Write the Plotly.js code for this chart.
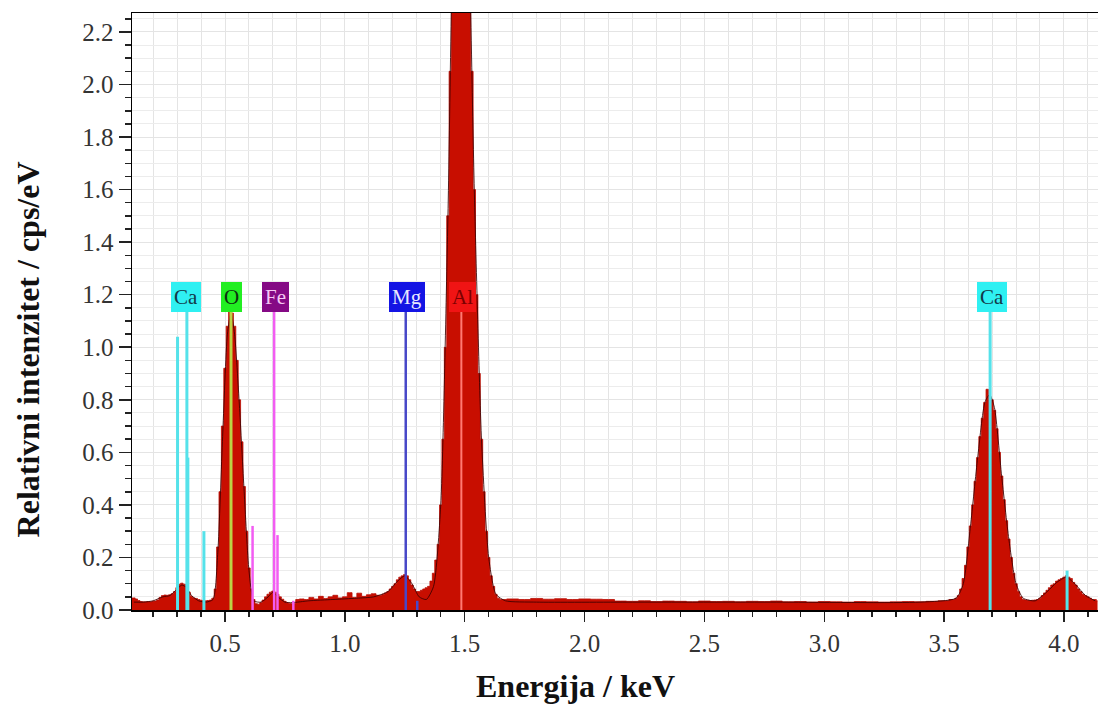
<!DOCTYPE html>
<html>
<head>
<meta charset="utf-8">
<script src="https://cdn.plot.ly/plotly-3.0.1.min.js"></script>
<style>html,body{margin:0;padding:0;background:#fff;}#chart{width:1098px;height:706px;}</style>
</head>
<body>
<div id="chart"></div>
<script>
// ---- Spectrum data (energy in keV, intensity in cps/eV) ----
const energyLow = [0.11,0.12,0.13,0.14,0.15,0.16,0.17,0.18,0.19,0.20,0.21,0.22,0.23,0.24,0.25,0.26,0.27,0.28,0.29,0.30,0.31,0.32,0.33,0.34,0.35,0.36,0.37,0.38,0.39,0.40,0.41,0.42,0.43,0.44,0.45];
const countsLow = [0.046,0.046,0.042,0.036,0.032,0.031,0.031,0.032,0.031,0.033,0.034,0.038,0.048,0.055,0.057,0.056,0.058,0.062,0.070,0.085,0.098,0.102,0.098,0.085,0.068,0.052,0.046,0.044,0.040,0.037,0.036,0.035,0.036,0.038,0.045];

const energyO = [0.46,0.47,0.48,0.49,0.50,0.51,0.52,0.53,0.54,0.55,0.56,0.57,0.58,0.59,0.60,0.61,0.62];
const countsO = [0.08,0.24,0.45,0.70,0.92,1.08,1.14,1.13,1.08,0.95,0.80,0.64,0.47,0.30,0.16,0.08,0.04];

const energyFe = [0.63,0.64,0.65,0.66,0.67,0.68,0.69,0.70,0.71,0.72,0.73,0.74,0.75,0.76,0.77,0.78,0.79,0.80];
const countsFe = [0.024,0.022,0.028,0.038,0.050,0.060,0.068,0.072,0.068,0.060,0.050,0.041,0.033,0.028,0.025,0.024,0.026,0.040];

const energyBg1 = [0.82,0.84,0.86,0.88,0.90,0.92,0.94,0.96,0.98,1.00,1.02,1.04,1.06,1.08,1.10,1.12,1.14];
const countsBg1 = [0.042,0.040,0.048,0.042,0.052,0.044,0.050,0.056,0.046,0.050,0.066,0.048,0.064,0.052,0.058,0.062,0.056];

const energyMg = [1.15,1.16,1.17,1.18,1.19,1.20,1.21,1.22,1.23,1.24,1.25,1.26,1.27,1.28,1.29,1.30,1.31,1.32,1.33,1.34,1.35,1.36,1.37,1.38];
const countsMg = [0.055,0.06,0.065,0.07,0.08,0.09,0.10,0.115,0.125,0.13,0.135,0.13,0.115,0.095,0.08,0.07,0.07,0.075,0.08,0.085,0.09,0.11,0.14,0.19];

const energyAl = [1.39,1.40,1.41,1.42,1.43,1.44,1.45,1.46,1.47,1.48,1.49,1.50,1.51,1.52,1.53,1.54,1.55,1.56,1.57,1.58,1.59,1.60,1.61,1.62,1.63,1.64,1.65];
const countsAl = [0.25,0.40,0.65,1.00,1.50,2.05,2.60,3.00,3.25,3.35,3.35,3.20,2.90,2.50,2.05,1.60,1.20,0.90,0.65,0.45,0.30,0.20,0.13,0.09,0.06,0.045,0.04];

const energyBg2 = [1.70,1.75,1.80,1.85,1.90,1.95,2.00,2.05,2.10,2.15,2.20,2.25,2.30,2.35,2.40,2.45,2.50,2.55,2.60,2.65,2.70,2.75,2.80,2.85,2.90,2.95,3.00,3.05,3.10,3.15,3.20,3.25,3.30,3.35,3.40,3.45,3.50];
const countsBg2 = [0.042,0.040,0.044,0.041,0.043,0.040,0.042,0.041,0.040,0.034,0.033,0.035,0.032,0.034,0.033,0.031,0.034,0.032,0.033,0.031,0.033,0.032,0.034,0.031,0.032,0.030,0.032,0.031,0.030,0.032,0.031,0.030,0.031,0.032,0.031,0.033,0.035];

const energyCa = [3.54,3.55,3.56,3.57,3.58,3.59,3.60,3.61,3.62,3.63,3.64,3.65,3.66,3.67,3.68,3.69,3.70,3.71,3.72,3.73,3.74,3.75,3.76,3.77,3.78,3.79,3.80,3.81,3.82,3.83];
const countsCa = [0.04,0.045,0.055,0.08,0.12,0.17,0.24,0.32,0.40,0.49,0.58,0.66,0.73,0.79,0.84,0.80,0.80,0.76,0.69,0.60,0.51,0.42,0.34,0.27,0.20,0.14,0.10,0.07,0.05,0.04];

const energyBg3 = [3.84,3.85,3.86,3.87,3.88,3.89];
const countsBg3 = [0.038,0.037,0.036,0.037,0.038,0.040];

const energyCaKb = [3.90,3.91,3.92,3.93,3.94,3.95,3.96,3.97,3.98,3.99,4.00,4.01,4.02,4.03,4.04,4.05,4.06,4.07,4.08,4.09,4.10,4.11,4.12,4.13,4.14];
const countsCaKb = [0.045,0.055,0.065,0.075,0.085,0.095,0.10,0.11,0.115,0.12,0.125,0.13,0.125,0.12,0.105,0.095,0.08,0.07,0.06,0.055,0.05,0.045,0.04,0.04,0.035];

// ---- Fitted envelope (dark outline) ----
const fitEnergy = [0.12,0.16,0.20,0.24,0.27,0.30,0.32,0.34,0.36,0.39,0.42,0.45,0.47,0.49,0.51,0.525,0.54,0.56,0.58,0.60,0.62,0.65,0.68,0.70,0.72,0.75,0.78,0.85,0.95,1.05,1.12,1.18,1.22,1.25,1.28,1.31,1.34,1.37,1.40,1.43,1.46,1.487,1.51,1.54,1.57,1.60,1.63,1.67,1.8,2.2,2.8,3.4,3.55,3.58,3.61,3.64,3.67,3.69,3.71,3.74,3.77,3.80,3.83,3.88,3.93,3.97,4.01,4.05,4.09,4.13];
const fitIntensity = [0.03,0.03,0.035,0.05,0.055,0.08,0.095,0.085,0.055,0.035,0.03,0.04,0.22,0.66,1.05,1.13,1.05,0.78,0.45,0.15,0.035,0.03,0.05,0.068,0.05,0.03,0.028,0.035,0.04,0.045,0.05,0.07,0.11,0.13,0.10,0.05,0.04,0.09,0.4,1.5,3.0,3.35,2.9,1.6,0.65,0.2,0.06,0.035,0.03,0.03,0.03,0.03,0.045,0.1,0.32,0.58,0.79,0.82,0.77,0.51,0.27,0.1,0.045,0.035,0.07,0.105,0.125,0.095,0.055,0.035];

// ---- Element line markers ----
const markerEnergy  = [0.302,0.341,0.345,0.412,0.525,0.615,0.705,0.719,0.785,1.254,1.302,1.486,3.692,4.013];
const markerHeight  = [1.04,1.135,0.58,0.30,1.135,0.32,1.135,0.285,0.035,1.135,0.035,1.135,1.135,0.15];
const markerElement = ['Ca','Ca','Ca','Ca','O','Fe','Fe','Fe','Fe','Mg','Mg','Al','Ca','Ca'];

// ---- Element labels ----
const labelText   = ['Ca','O','Fe','Mg','Al','Ca'];
const labelEnergy = [0.338,0.527,0.711,1.259,1.489,3.700];

const lineColor = {Ca:'#55e2ea', O:'#bcd444', Fe:'#f25cf2', Mg:'#4848c8', Al:'#ff7a72'};
const lineWidth = {Ca:3, O:3, Fe:2.5, Mg:2.5, Al:2};
const boxStyle = {
  Ca:{bg:'#2ff0f2', fg:'#123848'},
  O:{bg:'#22ee22', fg:'#0c3010'},
  Fe:{bg:'#850a85', fg:'#f4c8f4'},
  Mg:{bg:'#1414e4', fg:'#e8e8ff'},
  Al:{bg:'#f01414', fg:'#7a0000'}
};

const energy = [].concat(energyLow, energyO, energyFe, energyBg1, energyMg, energyAl, energyBg2, energyCa, energyBg3, energyCaKb);
const intensity = [].concat(countsLow, countsO, countsFe, countsBg1, countsMg, countsAl, countsBg2, countsCa, countsBg3, countsCaKb);

const traces = [];
traces.push({
  type:'scatter', mode:'lines', x:energy, y:intensity,
  line:{shape:'hvh', color:'#b80a00', width:0.8},
  fill:'tozeroy', fillcolor:'#c80e00', hoverinfo:'x+y'
});
traces.push({
  type:'scatter', mode:'lines', x:fitEnergy, y:fitIntensity,
  line:{shape:'spline', smoothing:0.6, color:'rgba(60,0,0,0.85)', width:1}, hoverinfo:'skip'
});
const byEl = {};
markerEnergy.forEach((e,i)=>{
  const el = markerElement[i];
  if(!byEl[el]) byEl[el] = {x:[], y:[]};
  byEl[el].x.push(e, e, null);
  byEl[el].y.push(0, markerHeight[i], null);
});
Object.keys(byEl).forEach(el=>{
  traces.push({type:'scatter', mode:'lines', x:byEl[el].x, y:byEl[el].y,
    line:{color:lineColor[el], width:lineWidth[el]}, hoverinfo:'skip', name:el});
});

const serif = 'Liberation Serif, Times New Roman, Times, serif';
const annotations = labelText.map((t,i)=>({
  x:labelEnergy[i], y:1.191, xref:'x', yref:'y', text:t, showarrow:false,
  font:{family:serif, size:21, color:boxStyle[t].fg},
  bgcolor:boxStyle[t].bg, borderpad:3, borderwidth:0, xanchor:'center', yanchor:'middle'
}));
annotations.push({
  x:0.459, y:-0.128, xref:'paper', yref:'paper', text:'<b>Energija / keV</b>', showarrow:false,
  font:{family:serif, size:32, color:'#111'}, xanchor:'center', yanchor:'middle'
});
annotations.push({
  x:-0.108, y:0.436, xref:'paper', yref:'paper', text:'<b>Relativni intenzitet / cps/eV</b>', showarrow:false,
  textangle:-90, font:{family:serif, size:32, color:'#111'}, xanchor:'center', yanchor:'middle'
});

const layout = {
  width:1098, height:706,
  margin:{l:132, r:0, t:13, b:96, pad:0},
  paper_bgcolor:'#ffffff', plot_bgcolor:'#ffffff',
  showlegend:false,
  font:{family:serif, color:'#222'},
  xaxis:{
    range:[0.112,4.142], tick0:0, dtick:0.5, tickformat:'.1f',
    ticks:'outside', ticklen:10, tickwidth:1.5, tickcolor:'#222',
    showline:true, linecolor:'#000', linewidth:1.5, mirror:true,
    showgrid:true, gridcolor:'#e4e4e4', gridwidth:1, zeroline:false,
    tickfont:{family:serif, size:25, color:'#333'},
    minor:{tick0:0, dtick:0.1, ticks:'outside', ticklen:5, tickwidth:1.5, tickcolor:'#222', showgrid:true, gridcolor:'#e4e4e4'}
  },
  yaxis:{
    range:[0,2.272], tick0:0, dtick:0.2, tickformat:'.1f',
    ticks:'outside', ticklen:12, tickwidth:1.5, tickcolor:'#222',
    showline:true, linecolor:'#000', linewidth:1.5, mirror:false,
    showgrid:true, gridcolor:'#e4e4e4', gridwidth:1, zeroline:false,
    tickfont:{family:serif, size:25, color:'#333'},
    minor:{tick0:0, dtick:0.05, ticks:'outside', ticklen:6, tickwidth:1.5, tickcolor:'#222', showgrid:true, gridcolor:'#ececec'}
  },
  annotations:annotations
};

Plotly.newPlot('chart', traces, layout, {displayModeBar:false, staticPlot:true});
</script>
</body>
</html>
